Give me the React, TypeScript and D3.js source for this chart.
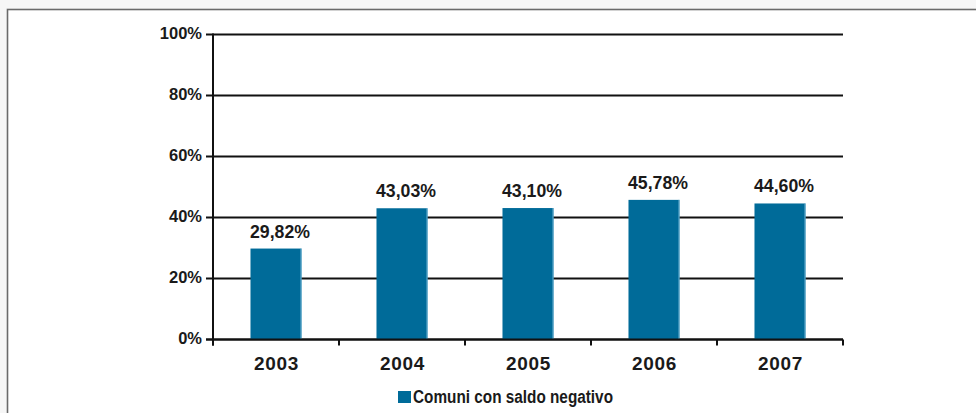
import React from "react";
import * as d3 from "d3";

const categories = ["2003", "2004", "2005", "2006", "2007"];
const values = [29.82, 43.03, 43.1, 45.78, 44.6];
const valueLabels = ["29,82%", "43,03%", "43,10%", "45,78%", "44,60%"];
const yTicks = [0, 20, 40, 60, 80, 100];
const legendLabel = "Comuni con saldo negativo";

const W = 976;
const H = 413;
const left = 213;
const right = 843;
const top = 34.5;
const bottom = 339.5;
const barColor = "#006b99";
const font = "'Liberation Sans', Arial, sans-serif";

export default function App() {
  const x = d3.scaleBand<string>().domain(categories).range([left, right]).paddingInner(0.595).paddingOuter(0.2975);
  const xb = d3.scaleBand<string>().domain(categories).range([left, right]);
  const y = d3.scaleLinear().domain([0, 100]).range([bottom, top]);

  return (
    <svg width={W} height={H} style={{ position: "absolute", left: 0, top: 0 }}>
      <rect x={0} y={0} width={W} height={H} fill="#f6f6f6" />
      <rect x={7.5} y={9.5} width={W} height={H} fill="#ffffff" stroke="#6a6a6a" strokeWidth={1.6} />
      {yTicks.map((t) => (
        <g key={t}>
          <line x1={left - 7} x2={right} y1={y(t)} y2={y(t)} stroke="#111" strokeWidth={2} />
          <text x={left - 11} y={y(t) + 4.5} textAnchor="end" fontFamily={font} fontWeight="bold" fontSize={16.5} fill="#1a1a1a">
            {t}%
          </text>
        </g>
      ))}
      {categories.map((c, i) => (
        <g key={c}>
          <rect x={x(c)} y={y(values[i])} width={x.bandwidth()} height={bottom - y(values[i])} fill={barColor} />
          <line x1={(x(c) as number) + x.bandwidth() - 0.5} x2={(x(c) as number) + x.bandwidth() - 0.5} y1={y(values[i])} y2={bottom} stroke="#6fb3d3" strokeWidth={1} />
          <text x={(x(c) as number) + x.bandwidth() / 2 + 4} y={y(values[i]) - 11} textAnchor="middle" fontFamily={font} fontWeight="bold" fontSize={17.7} fill="#1a1a1a">
            {valueLabels[i]}
          </text>
          <text x={(xb(c) as number) + xb.bandwidth() / 2 + 0.5} y={370} textAnchor="middle" fontFamily={font} fontWeight="bold" fontSize={19} letterSpacing={0.7} fill="#1a1a1a">
            {c}
          </text>
        </g>
      ))}
      {[...categories.map((c) => xb(c) as number), right].map((p, i) => (
        <line key={i} x1={p} x2={p} y1={bottom} y2={bottom + 6} stroke="#111" strokeWidth={2} />
      ))}
      <line x1={left} x2={left} y1={top - 1} y2={bottom + 6} stroke="#111" strokeWidth={2} />
      <line x1={left - 7} x2={right} y1={bottom} y2={bottom} stroke="#111" strokeWidth={2} />
      <rect x={398} y={391} width={13} height={12} fill={barColor} />
      <text x={413} y={403} fontFamily={font} fontWeight="bold" fontSize={17.5} textLength={200} lengthAdjust="spacingAndGlyphs" fill="#1a1a1a">
        {legendLabel}
      </text>
    </svg>
  );
}
